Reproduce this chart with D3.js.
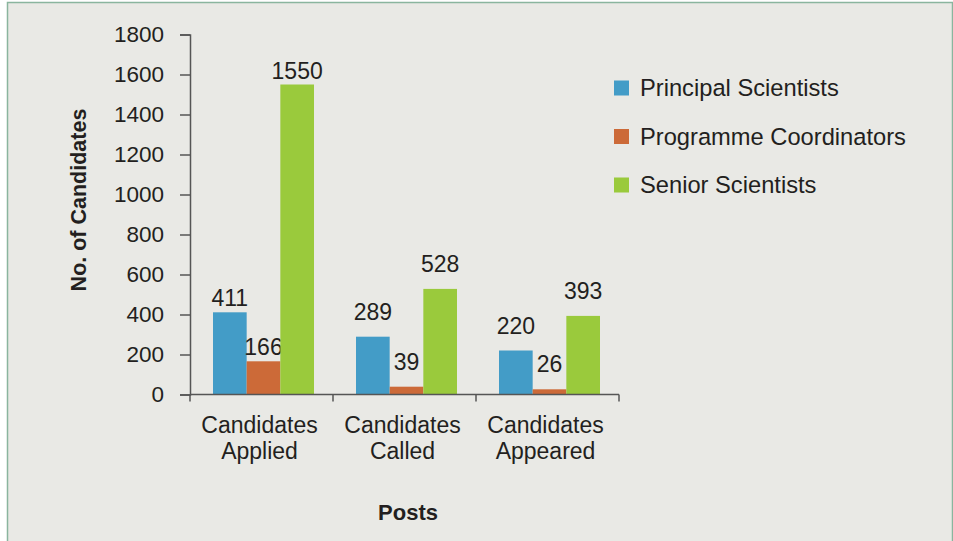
<!DOCTYPE html>
<html>
<head>
<meta charset="utf-8">
<style>
  body { margin: 0; background: #fff; }
  svg text { font-family: "Liberation Sans", Arial, sans-serif; fill: #231f20; }
</style>
<title>Candidates by post</title>
</head>
<body>
<script src="https://cdn.jsdelivr.net/npm/d3@7"></script>
<script>

// data
var categories = ["Candidates Applied", "Candidates Called", "Candidates Appeared"];
var series = ["Principal Scientists", "Programme Coordinators", "Senior Scientists"];
var principal = [411, 289, 220];
var coordinators = [166, 39, 26];
var senior = [1550, 528, 393];
var yTicks = [0, 200, 400, 600, 800, 1000, 1200, 1400, 1600, 1800];

var values = [principal, coordinators, senior];
var colors = ["#439cc7", "#cc6a38", "#9aca3c"];

var W = 953, H = 541;
var svg = d3.select("body").append("svg")
    .attr("width", W)
    .attr("height", H);

// panel with the thin green frame
svg.append("rect")
    .attr("x", 7.5).attr("y", 2.5)
    .attr("width", W - 8).attr("height", H + 10)
    .attr("fill", "#e9e9e5")
    .attr("stroke", "#8ab59e")
    .attr("stroke-width", 1.5);

var x0 = d3.scaleBand()
    .domain(categories)
    .range([190, 619]);

var x1 = d3.scaleBand()
    .domain(series)
    .range([23, 124]);

var y = d3.scaleLinear()
    .domain([0, 1800])
    .range([394.5, 34.5]);

// bars
categories.forEach(function(c, ci) {
  series.forEach(function(s, si) {
    var v = values[si][ci];
    svg.append("rect")
      .attr("x", x0(c) + x1(s))
      .attr("y", y(v))
      .attr("width", x1.bandwidth())
      .attr("height", y(0) - y(v))
      .attr("fill", colors[si]);

    // labels sit a bit higher outside the first group
    var gap = ci == 0 ? 6 : 17;
    svg.append("text")
      .attr("x", x0(c) + x1(s) + x1.bandwidth() / 2)
      .attr("y", y(v) - gap)
      .attr("text-anchor", "middle")
      .style("font-size", "23px")
      .text(v);
  });
});

// y axis
var yAxis = d3.axisLeft(y).tickValues(yTicks).tickFormat(d3.format("d")).tickSize(10).tickPadding(16);
var gy = svg.append("g")
    .attr("transform", "translate(190,0)")
    .call(yAxis);
gy.select(".domain").attr("stroke", "#555").attr("stroke-width", 1.5);
gy.selectAll(".tick line").attr("stroke", "#555").attr("stroke-width", 1.5);
gy.selectAll(".tick text").style("font-size", "22.5px").attr("fill", "#231f20");

// x axis: ticks at band boundaries, labels on two lines
svg.append("line")
    .attr("x1", 190).attr("x2", 619)
    .attr("y1", y(0)).attr("y2", y(0))
    .attr("stroke", "#555").attr("stroke-width", 1.5);

var bounds = categories.map(function(c) { return x0(c); }).concat([x0.range()[1]]);
bounds.forEach(function(b) {
  svg.append("line")
    .attr("x1", b).attr("x2", b)
    .attr("y1", y(0)).attr("y2", y(0) + 7)
    .attr("stroke", "#555").attr("stroke-width", 1.5);
});

categories.forEach(function(c) {
  var words = c.split(" ");
  var t = svg.append("text")
    .attr("text-anchor", "middle")
    .style("font-size", "23px");
  words.forEach(function(w, i) {
    t.append("tspan")
      .attr("x", x0(c) + x0.bandwidth() / 2 - 2)
      .attr("y", 433 + i * 26)
      .text(w);
  });
});

// axis titles
svg.append("text")
    .attr("transform", "translate(79,200) rotate(-90)")
    .attr("text-anchor", "middle")
    .attr("dominant-baseline", "central")
    .style("font-size", "21.5px")
    .style("font-weight", "bold")
    .text("No. of Candidates");

svg.append("text")
    .attr("x", 408)
    .attr("y", 520)
    .attr("text-anchor", "middle")
    .style("font-size", "22px")
    .style("font-weight", "bold")
    .text("Posts");

// legend
series.forEach(function(s, i) {
  var cy = 88 + i * 48.5;
  svg.append("rect")
    .attr("x", 614).attr("y", cy - 7.5)
    .attr("width", 15).attr("height", 15)
    .attr("fill", colors[i]);
  svg.append("text")
    .attr("x", 640)
    .attr("y", cy + 8)
    .style("font-size", "23.7px")
    .text(s);
});

</script>
</body>
</html>
